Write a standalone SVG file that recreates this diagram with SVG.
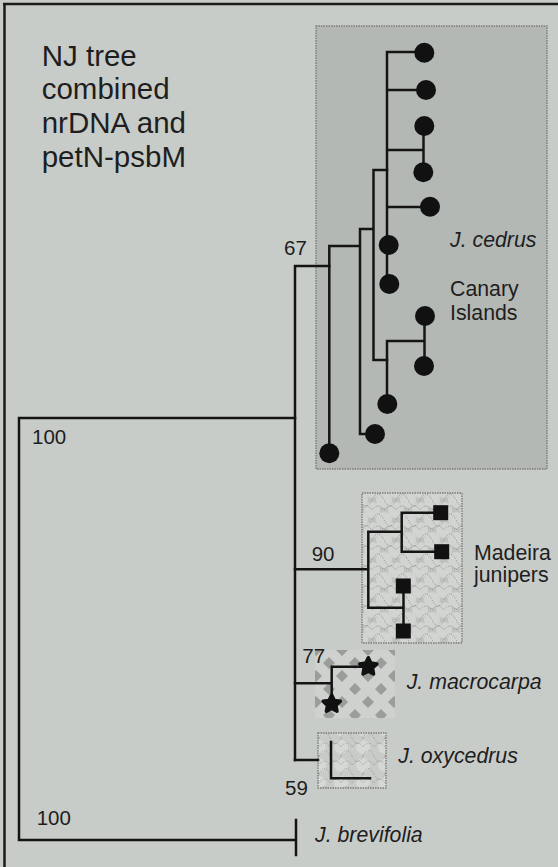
<svg xmlns="http://www.w3.org/2000/svg" width="558" height="867" viewBox="0 0 558 867">
<style>
.bg{fill:#c8ccc9}
.frame{stroke:#1a1a1a;stroke-width:2.5;fill:none}
.br{stroke:#141414;stroke-width:2.5;fill:none;stroke-linecap:square}
.num{font-family:"Liberation Sans",Arial,sans-serif;font-size:20.5px;fill:#1e1e1e}
.lab{font-family:"Liberation Sans",Arial,sans-serif;font-size:21.3px;fill:#1e1e1e}
.sp{font-style:italic}
.title{font-family:"Liberation Sans",Arial,sans-serif;font-size:29.5px;fill:#1e1e1e}
.dot{fill:#111}
.sq{fill:#111}
.star{fill:#111;stroke:#111;stroke-width:3.5;stroke-linejoin:round}
.boxedge{stroke:#7a7c7a;stroke-width:1.4;stroke-dasharray:1.5 1}
</style>
<defs>
<pattern id="scales" width="24" height="20" patternUnits="userSpaceOnUse">
<rect width="24" height="20" fill="#bfc2bf"/>
<circle cx="12" cy="10" r="8" fill="#d2d4d2"/>
<circle cx="0" cy="0" r="8" fill="#d2d4d2"/>
<circle cx="24" cy="0" r="8" fill="#d2d4d2"/>
<circle cx="0" cy="20" r="8" fill="#d2d4d2"/>
<circle cx="24" cy="20" r="8" fill="#d2d4d2"/>
<path d="M0 10 Q6 2 12 10 Q18 2 24 10 M0 0 Q6 12 12 0 M12 20 Q18 8 24 20" fill="none" stroke="#7d807d" stroke-width="0.9" stroke-dasharray="1 1.5"/>
</pattern>
<pattern id="diamonds" width="26" height="26" patternUnits="userSpaceOnUse" x="316" y="650">
<rect width="26" height="26" fill="#cfd1cf"/>
<path d="M0 -6 L6 0 L0 6 L-6 0Z M26 -6 L32 0 L26 6 L20 0Z M0 20 L6 26 L0 32 L-6 26Z M26 20 L32 26 L26 32 L20 26Z M13 7 L19 13 L13 19 L7 13Z" fill="#9a9d9a"/>
</pattern>
<pattern id="scales2" width="22" height="18" patternUnits="userSpaceOnUse">
<rect width="22" height="18" fill="#c8cbc8"/>
<circle cx="11" cy="9" r="7" fill="#d6d8d6"/>
<path d="M0 9 Q5.5 1 11 9 Q16.5 1 22 9 M0 0 Q5.5 11 11 0 M11 18 Q16.5 7 22 18" fill="none" stroke="#858885" stroke-width="0.8" stroke-dasharray="1 1.5"/>
</pattern>
<circle id="c" r="10"/>
<rect id="s" x="-7.5" y="-7.5" width="15" height="15"/>
<polygon id="st" points="0,-9 2.6,-3.6 8.6,-2.8 4.2,1.4 5.3,7.3 0,4.5 -5.3,7.3 -4.2,1.4 -8.6,-2.8 -2.6,-3.6"/>
</defs>

<rect class="bg" x="0" y="0" width="558" height="867"/>
<g id="frame">
<line class="frame" x1="3" y1="4" x2="558" y2="4"/>
<line class="frame" x1="4.5" y1="3" x2="4.5" y2="867"/>
</g>

<g id="title">
<text class="title" x="41.7" y="65.7">NJ tree</text>
<text class="title" x="41.7" y="99.2">combined</text>
<text class="title" x="41.7" y="133">nrDNA and</text>
<text class="title" x="41.7" y="166.7">petN-psbM</text>
</g>

<g id="box-cedrus">
<rect x="316" y="26" width="231" height="443" fill="#b4b8b5" class="boxedge"/>
</g>
<g id="box-madeira">
<rect x="362" y="493" width="100" height="150" fill="url(#scales)" class="boxedge"/>
</g>
<g id="box-macrocarpa">
<rect x="315" y="650" width="80" height="68" fill="url(#diamonds)"/>
</g>
<g id="box-oxycedrus">
<rect x="318" y="733" width="68" height="55" fill="url(#scales2)" class="boxedge"/>
</g>

<g id="connectors">
<path class="br" d="M19 418 H295 M19 418 V840 H296 M296 820 V855"/>
<path class="br" d="M295 266 V760 M295 266 H329.3"/>
<path class="br" d="M329.3 246 V453 M329.3 246 H360 M360 229 V434 H375 M360 229 H373.5 M373.5 170 V360 H387 M373.5 170 H387"/>
<path class="br" d="M387 52 V284 M387 52 H424 M387 90 H426 M387 150 H423.5 M423.5 126 V172 M387 207 H430"/>
<path class="br" d="M387 341 V404 M387 341 H424.5 M424.5 316 V366"/>
<path class="br" d="M295 569.3 H368.3 M368.3 531.7 V607.7 M368.3 531.7 H401.7 M401.7 512.7 V551.7 M401.7 512.7 H440 M401.7 551.7 H441 M368.3 607.7 H403.5 M403.5 586 V631"/>
<path class="br" d="M295 683.3 H331.7 M331.7 666.7 V704 M331.7 666.7 H368"/>
<path class="br" d="M295 760 H318"/>
<path class="br" d="M331 742 V778.3 H370"/>
</g>

<g id="tips-cedrus" class="dot">
<use id="tip1" href="#c" x="424.3" y="52.7"/>
<use id="tip2" href="#c" x="426" y="90"/>
<use id="tip3" href="#c" x="424.3" y="126"/>
<use id="tip4" href="#c" x="423.3" y="172.3"/>
<use id="tip5" href="#c" x="430" y="206.7"/>
<use id="tip6" href="#c" x="388.7" y="245"/>
<use id="tip7" href="#c" x="389.3" y="284"/>
<use id="tip8" href="#c" x="425" y="316"/>
<use id="tip9" href="#c" x="424" y="366"/>
<use id="tip10" href="#c" x="387.3" y="404"/>
<use id="tip11" href="#c" x="375" y="434"/>
<use id="tip12" href="#c" x="329.3" y="453.3"/>
</g>
<g id="tips-madeira" class="sq">
<use id="tip13" href="#s" x="440.7" y="512.7"/>
<use id="tip14" href="#s" x="441.7" y="551.7"/>
<use id="tip15" href="#s" x="403.3" y="586"/>
<use id="tip16" href="#s" x="403.3" y="631"/>
</g>
<g id="tips-macrocarpa" class="star">
<use id="tip17" href="#st" x="368.3" y="666.7"/>
<use id="tip18" href="#st" x="331.7" y="704"/>
</g>

<g id="labels">
<text class="num" x="284" y="255">67</text>
<text class="num" x="32" y="444">100</text>
<text class="num" x="311.7" y="560.7">90</text>
<text class="num" x="302.3" y="663.3">77</text>
<text class="num" x="285" y="795">59</text>
<text class="num" x="36.7" y="825">100</text>
<text class="lab sp" x="450" y="246.7">J. cedrus</text>
<text class="lab" x="450" y="296">Canary</text>
<text class="lab" x="450" y="319.5">Islands</text>
<text class="lab" x="474" y="560">Madeira</text>
<text class="lab" x="474" y="581.7">junipers</text>
<text class="lab sp" x="406.7" y="689.3">J. macrocarpa</text>
<text class="lab sp" x="398.3" y="763.3">J. oxycedrus</text>
<text class="lab sp" x="315" y="841.7">J. brevifolia</text>
</g>
</svg>
